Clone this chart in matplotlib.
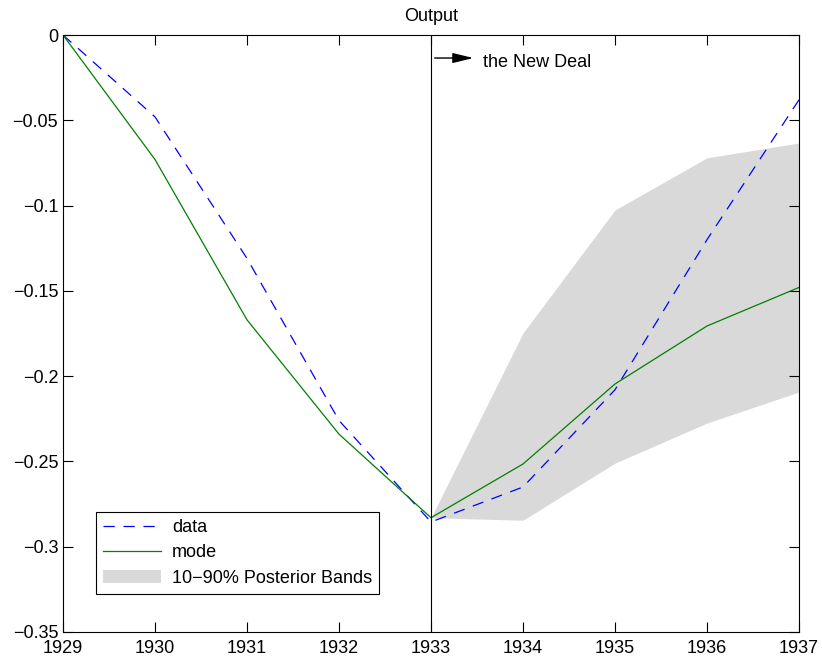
import numpy as np
import matplotlib
matplotlib.use("Agg")
import matplotlib.pyplot as plt

plt.rcParams['font.family'] = ['Liberation Sans', 'DejaVu Sans']

years = [1929, 1930, 1931, 1932, 1933, 1934, 1935, 1936, 1937]
data = [0.0, -0.048, -0.131, -0.226, -0.2855, -0.265, -0.208, -0.120, -0.038]
mode = [0.0, -0.073, -0.167, -0.234, -0.283, -0.2515, -0.2046, -0.1706, -0.148]

band_years = [1933, 1934, 1935, 1936, 1937]
band_low = [-0.283, -0.2845, -0.251, -0.2275, -0.2093]
band_high = [-0.283, -0.1747, -0.1026, -0.072, -0.0633]

fig = plt.figure(figsize=(8.22, 6.61), dpi=100)
ax = fig.add_axes([63/822, 1-632/661, (799-63)/822, (632-35)/661])

ax.fill_between(band_years, band_low, band_high, color='#d9d9d9', linewidth=0,
                label='10\u221290% Posterior Bands')
ax.plot(years, data, color='blue', linestyle=(0, (9, 7)), linewidth=0.9, label='data')
ax.plot(years, mode, color='green', linewidth=0.9, label='mode')
ax.axvline(1933, color='black', linewidth=0.8)

# arrow + label for the New Deal
ax.annotate('', xy=(1933.46, -0.0135), xytext=(1933.04, -0.0135),
            arrowprops=dict(arrowstyle='-|>,head_length=0.9,head_width=0.22',
                            color='black', lw=1.0, mutation_scale=14,
                            shrinkA=0, shrinkB=0))
ax.text(1933.57, -0.0164, 'the New Deal', fontsize=13, va='center', ha='left')

ax.set_xlim(1929, 1937)
ax.set_ylim(-0.35, 0)
ax.set_xticks(years)
ax.set_yticks(np.arange(-0.35, 0.001, 0.05))
ax.set_yticklabels(['\u22120.35', '\u22120.3', '\u22120.25', '\u22120.2', '\u22120.15',
                    '\u22120.1', '\u22120.05', '0'])
ax.tick_params(direction='in', top=True, right=True, labelsize=13, length=7, width=0.8)
ax.tick_params(axis='x', pad=6)
ax.set_title('Output', fontsize=13, pad=10)

handles, labels = ax.get_legend_handles_labels()
order = [1, 2, 0]
leg = ax.legend([handles[i] for i in order], [labels[i] for i in order],
                loc='lower left', bbox_to_anchor=(0.045, 0.064), borderaxespad=0,
                fontsize=13, fancybox=False, framealpha=1, edgecolor='black',
                borderpad=0.4, handlelength=3.2, labelspacing=0.45, handletextpad=0.6)
leg.get_frame().set_linewidth(0.8)

fig.savefig('out.png', dpi=100)
